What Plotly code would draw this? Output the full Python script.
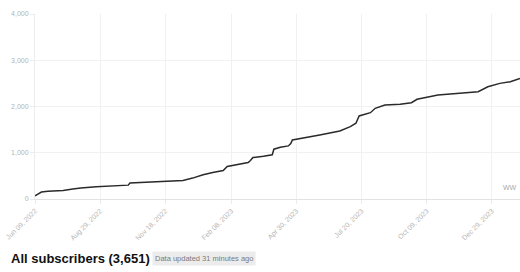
import plotly.graph_objects as go

dates = ["2022-06-09", "2022-06-13", "2022-06-17", "2022-06-25", "2022-07-14", "2022-07-26",
         "2022-08-05", "2022-08-24", "2022-09-10", "2022-10-01", "2022-10-03", "2022-10-05",
         "2022-10-20", "2022-11-09", "2022-11-25", "2022-12-10", "2022-12-22", "2023-01-04",
         "2023-01-16", "2023-01-29", "2023-02-03", "2023-02-15", "2023-03-01", "2023-03-03",
         "2023-03-07", "2023-03-20", "2023-03-31", "2023-04-02", "2023-04-10", "2023-04-20",
         "2023-04-23", "2023-04-25", "2023-05-07", "2023-05-29", "2023-06-23", "2023-07-06",
         "2023-07-13", "2023-07-17", "2023-07-31", "2023-08-06", "2023-08-18", "2023-09-06",
         "2023-09-20", "2023-09-27", "2023-10-23", "2023-11-15", "2023-12-12", "2023-12-24",
         "2024-01-08", "2024-01-21", "2024-02-02"]
subscribers = [70, 120, 150, 165, 185, 215,
               240, 265, 280, 293, 300, 345,
               355, 373, 380, 401, 452, 524,
               573, 616, 702, 739, 790, 815,
               896, 925, 955, 1077, 1120, 1148,
               1200, 1278, 1314, 1386, 1472, 1565,
               1638, 1795, 1866, 1961, 2032, 2047,
               2082, 2155, 2248, 2284, 2319, 2427,
               2500, 2534, 2608]

x_ticks = ["2022-06-09", "2022-08-29", "2022-11-18", "2023-02-08", "2023-04-30",
           "2023-07-20", "2023-10-09", "2023-12-29"]
x_tick_labels = ["Jun 09, 2022", "Aug 29, 2022", "Nov 18, 2022", "Feb 08, 2023",
                 "Apr 30, 2023", "Jul 20, 2023", "Oct 09, 2023", "Dec 29, 2023"]
y_ticks = [0, 1000, 2000, 3000, 4000]
y_tick_labels = ["0", "1,000", "2,000", "3,000", "4,000"]
title_text = "All subscribers (3,651)"
badge_text = "Data updated 31 minutes ago"
watermark_text = "WW"

W, H = 520, 272
ML, MR, MT, MB = 35, 0, 14, 73
PW, PH = W - ML - MR, H - MT - MB

def px_x(px):
    return (px - ML) / PW

def px_y(py):
    return (H - MB - py) / PH

fig = go.Figure()
fig.add_trace(go.Scatter(x=dates, y=subscribers, mode="lines",
                         line=dict(color="#2a2a2a", width=1.5), hoverinfo="skip"))

fig.update_layout(
    width=W, height=H,
    margin=dict(l=ML, r=MR, t=MT, b=MB, pad=0),
    paper_bgcolor="white", plot_bgcolor="white",
    showlegend=False,
    font=dict(family="Liberation Sans, Arial, sans-serif"),
    xaxis=dict(
        range=["2022-06-09", "2024-02-02"],
        tickmode="array", tickvals=x_ticks, ticktext=x_tick_labels,
        tickangle=-45, tickfont=dict(size=7, color="#b4b4b4"),
        showgrid=True, gridcolor="#f1f1f1", gridwidth=1,
        showline=True, linecolor="#e2e2e2", linewidth=1,
        ticks="outside", ticklen=4, tickcolor="#ececec",
        zeroline=False, fixedrange=True,
    ),
    yaxis=dict(
        range=[0, 4000],
        tickmode="array", tickvals=y_ticks, ticktext=y_tick_labels,
        tickfont=dict(size=7, color="#b4b4b4"),
        showgrid=True, gridcolor="#f1f1f1", gridwidth=1,
        showline=True, linecolor="#ececec", linewidth=1,
        ticks="outside", ticklen=4, tickcolor="#ececec",
        zeroline=False, fixedrange=True,
    ),
)

fig.add_annotation(xref="paper", yref="paper", x=px_x(9), y=px_y(258),
                   xanchor="left", yanchor="middle", showarrow=False,
                   text="<b>" + title_text + "</b>",
                   font=dict(size=13, color="#111111", family="Liberation Sans, Arial, sans-serif"))
fig.add_annotation(xref="paper", yref="paper", x=px_x(152), y=px_y(258.5),
                   xanchor="left", yanchor="middle", showarrow=False,
                   text=badge_text, bgcolor="#ececec", borderpad=2,
                   font=dict(size=7.5, color="#7a7a7a", family="Liberation Sans, Arial, sans-serif"))
fig.add_annotation(xref="paper", yref="paper", x=px_x(519), y=px_y(187),
                   xanchor="right", yanchor="middle", showarrow=False,
                   text=watermark_text,
                   font=dict(size=7, color="#a8a8a8", family="Liberation Sans, Arial, sans-serif"))

fig.write_html("out.html")
